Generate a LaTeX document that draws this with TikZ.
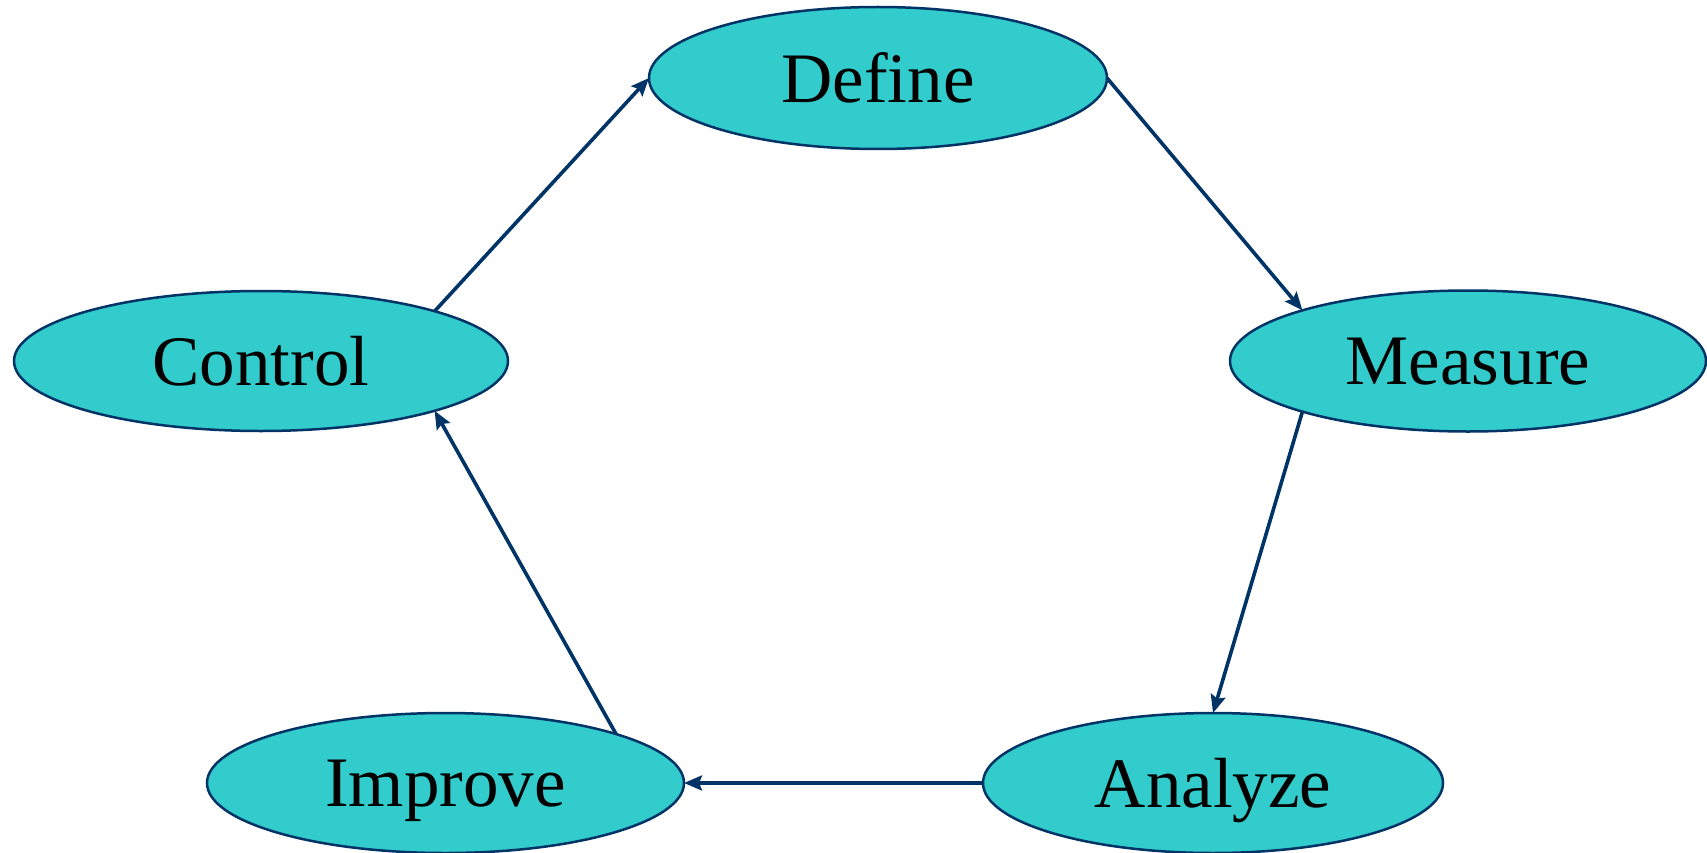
\documentclass[tikz,border=0pt]{standalone}
\usepackage{fontspec}
\setmainfont{Liberation Serif}
\usetikzlibrary{arrows.meta,shapes.geometric}
\definecolor{phasefill}{HTML}{33CCCC}
\definecolor{navy}{HTML}{003366}
\tikzset{
  phase/.style={ellipse, draw=navy, fill=phasefill, line width=2.5pt,
    inner sep=0pt, outer sep=0pt, text depth=0pt,
    font=\fontsize{71}{80}\selectfont},
  flow/.style={draw=navy, line width=3.6pt,
    -{Stealth[length=18pt,width=15pt,inset=3pt]}}
}
\begin{document}
\begin{tikzpicture}[x=1pt,y=-1pt]
\useasboundingbox (0,0) rectangle (1707,853);
% DMAIC phases
\node[phase, minimum width=458pt, minimum height=142pt] (def) at (878,78) {Define};
\node[phase, minimum width=476pt, minimum height=141pt] (mea) at (1468,361) {Measure};
\node[phase, minimum width=460pt, minimum height=140pt] (ana) at (1213,783) {Analyze};
\node[phase, minimum width=477pt, minimum height=140pt] (imp) at (445.5,783) {Improve};
\node[phase, minimum width=494pt, minimum height=140pt] (con) at (261,361) {Control};
% cycle
\draw[flow] (def.east) -- (mea.163);
\draw[flow] (mea.197) -- (ana.north);
\draw[flow] (ana.west) -- (imp.east);
\draw[flow] (imp.16) -- (con.-16);
\draw[flow] (con.16) -- (def.west);
\end{tikzpicture}
\end{document}
